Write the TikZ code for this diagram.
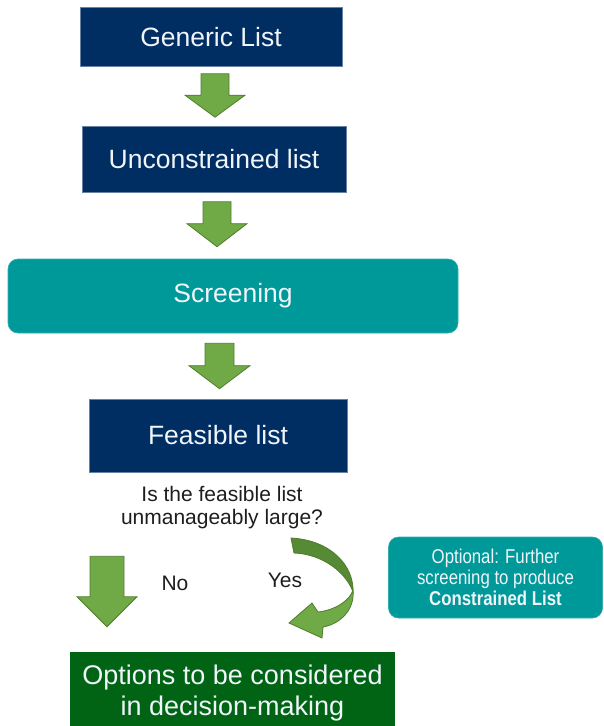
\documentclass[tikz,border=0pt]{standalone}
\usepackage{fontspec}
\setmainfont{Liberation Sans}
\newfontfamily\narrowsans[FakeStretch=0.84]{Liberation Sans}
\usetikzlibrary{calc}
\definecolor{navybox}{RGB}{0,45,98}
\definecolor{tealbox}{RGB}{0,153,153}
\definecolor{forestbox}{RGB}{0,100,20}
\definecolor{arrowfill}{RGB}{112,170,70}
\definecolor{arrowshade}{RGB}{86,138,52}
\definecolor{arrowedge}{RGB}{80,125,45}
\definecolor{labeltext}{RGB}{30,30,30}
\definecolor{boxtext}{RGB}{240,245,250}

% block arrow pointing down: start, tip, half shaft width, half head width, head length
\newcommand\blockarrow[5]{%
  \filldraw[arrowfill, draw=arrowedge, line width=0.8pt]
    let \p1=(#1), \p2=(#2) in
    (\x1-#3,\y1) -- (\x1+#3,\y1) -- (\x1+#3,\y2+#5) -- (\x1+#4,\y2+#5)
    -- (\x1,\y2) -- (\x1-#4,\y2+#5) -- (\x1-#3,\y2+#5) -- cycle;}

\begin{document}
\begin{tikzpicture}[x=1pt,y=-1pt,
  listbox/.style={rectangle, fill=navybox, draw=navybox!60!white, line width=0.6pt,
    text=boxtext, font=\fontsize{26.5}{30}\selectfont, inner sep=0pt},
  screenbox/.style={rectangle, rounded corners=10pt, fill=tealbox, draw=tealbox!80!white,
    line width=0.6pt, text=boxtext, font=\fontsize{26.5}{30}\selectfont, inner sep=0pt},
  optbox/.style={rectangle, rounded corners=10pt, fill=tealbox, draw=tealbox!80!white,
    line width=0.6pt, text=boxtext, align=center, font=\narrowsans\fontsize{20}{21}\selectfont, inner sep=0pt},
  resultbox/.style={rectangle, fill=forestbox, text=boxtext, align=center,
    font=\fontsize{27}{31}\selectfont, inner sep=0pt},
  qtext/.style={text=labeltext, align=center, font=\fontsize{21}{22.5}\selectfont, inner sep=0pt}]

\useasboundingbox (0,0) rectangle (603,726);
\fill[white] (0,0) rectangle (603,726);

% boxes of the main flow
\node[listbox, minimum width=262pt, minimum height=59pt] (gen) at (211,37) {Generic List};
\node[listbox, minimum width=264pt, minimum height=66pt] (unc) at (214,159.5) {Unconstrained list};
\node[screenbox, minimum width=450pt, minimum height=74pt] (scr) at (233,296) {Screening};
\node[listbox, minimum width=258pt, minimum height=73pt] (fea) at (218,435.5) {Feasible list};

% question and the two answers
\node[qtext] (q) at (222,507.5) {Is the feasible list\\unmanageably large?};
\node[qtext] (no) at (175,583) {No};
\node[qtext] (yes) at (285,580) {Yes};

% optional further screening
\node[optbox, minimum width=214pt, minimum height=81pt] (opt) at (495.5,577.5)
  {Optional: Further\\screening to produce\\\textbf{Constrained List}};

% final result
\node[resultbox, minimum width=325pt, minimum height=82pt] (res) at (232.5,693)
  {Options to be considered\\in decision-making};

% straight block arrows between the boxes
\blockarrow{$(gen.south)+(4,7)$}{$(unc.north)+(0,-9)$}{14pt}{30pt}{22pt}
\blockarrow{$(unc.south)+(3,9)$}{$(scr.north)+(0,-12)$}{14pt}{30pt}{23pt}
\blockarrow{$(scr.south)+(-13.5,10)$}{$(fea.north)+(0,-10)$}{14.5pt}{30.5pt}{23pt}
\blockarrow{$(fea.south)+(-111,84)$}{$(res.north)+(0,-25)$}{17pt}{30pt}{30pt}

% curved "yes" arrow: back of the ribbon, then front with the head
\filldraw[arrowshade, draw=arrowedge, line width=0.8pt]
  (291,538) .. controls (330,540) and (354,565) .. (353,592)
  .. controls (346,572) and (322,554) .. (294,553) -- cycle;
\filldraw[arrowfill, draw=arrowedge, line width=0.8pt]
  (353,590) .. controls (355,610) and (340,624) .. (323,627)
  -- (322,638) -- (289,623) -- (312,603) -- (318,612)
  .. controls (336,610) and (350,600) .. (353,590) -- cycle;
\end{tikzpicture}
\end{document}
